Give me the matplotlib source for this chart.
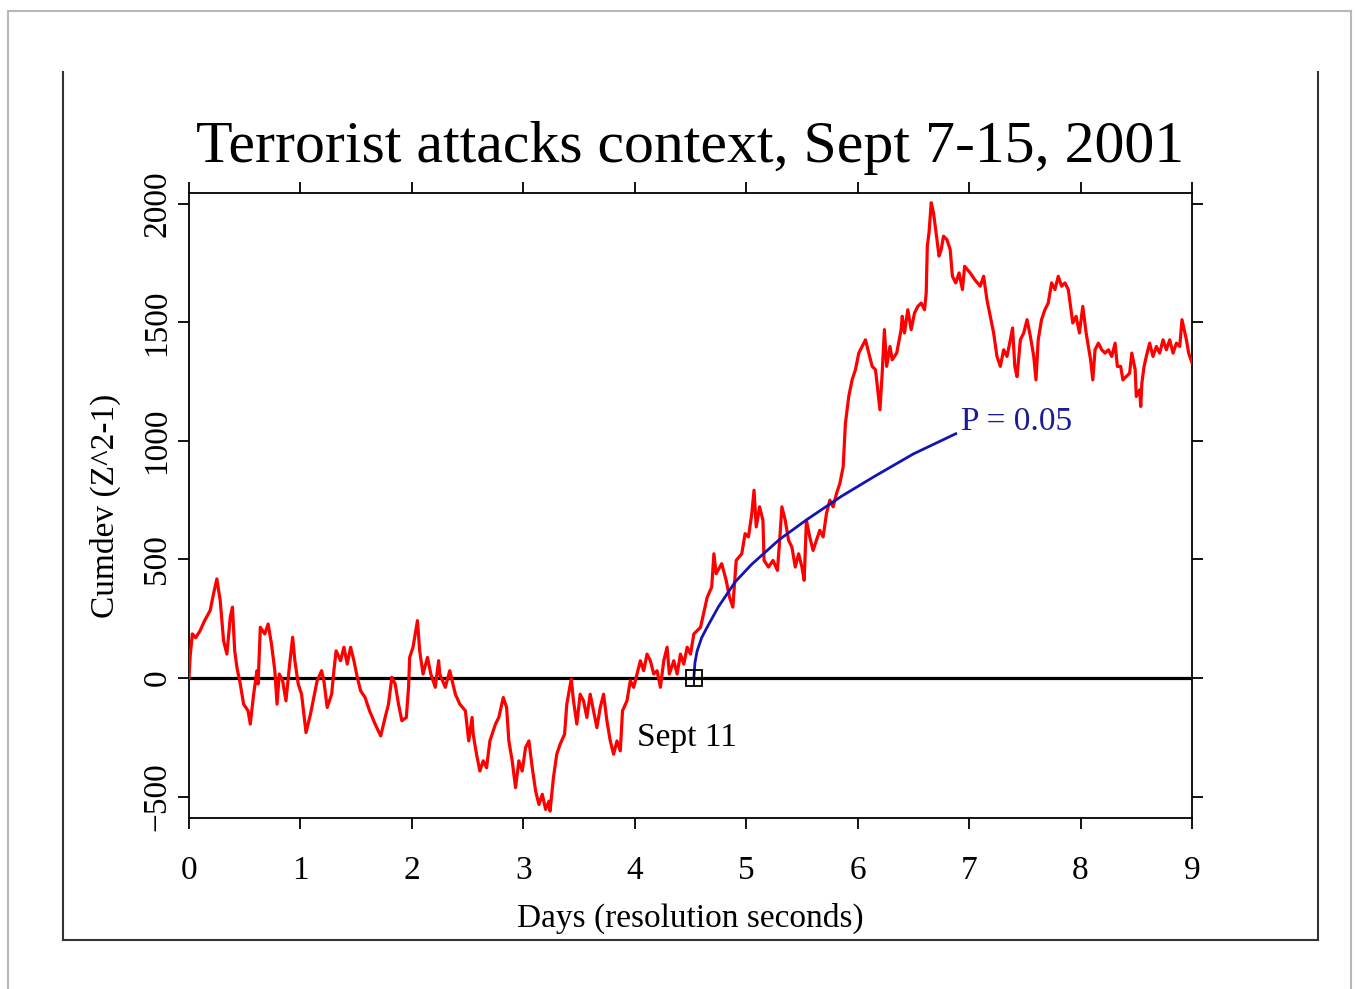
import matplotlib
matplotlib.use("Agg")
import matplotlib.pyplot as plt
from matplotlib.lines import Line2D

# ---------------- data ----------------
red_days = [
    0.00, 0.01, 0.03, 0.06, 0.10, 0.14, 0.19, 0.22, 0.25, 0.28, 0.31, 0.34, 0.37, 0.39,
    0.41, 0.43, 0.46, 0.49, 0.53, 0.55, 0.58, 0.61, 0.62, 0.64, 0.68, 0.71, 0.74, 0.77,
    0.79, 0.81, 0.84, 0.87, 0.90, 0.93, 0.95, 0.98, 1.01, 1.05, 1.09, 1.12, 1.15, 1.19,
    1.21, 1.24, 1.28, 1.30, 1.32, 1.36, 1.39, 1.42, 1.45, 1.48, 1.51, 1.54, 1.58, 1.62,
    1.67, 1.72, 1.76, 1.79, 1.82, 1.85, 1.88, 1.91, 1.95, 1.97, 1.98, 2.01, 2.05, 2.07,
    2.10, 2.14, 2.17, 2.21, 2.24,
    2.25, 2.30, 2.34, 2.39, 2.43, 2.48, 2.51, 2.54, 2.55, 2.58, 2.61, 2.64, 2.67, 2.70,
    2.75, 2.78, 2.82, 2.85, 2.87, 2.90, 2.93, 2.96, 2.99, 3.02, 3.05, 3.08, 3.11, 3.14,
    3.17, 3.20, 3.23, 3.24, 3.27, 3.30, 3.33, 3.37, 3.39, 3.43, 3.45, 3.48, 3.51, 3.54,
    3.57, 3.60, 3.63, 3.66, 3.69, 3.72, 3.75, 3.78, 3.81, 3.84, 3.87, 3.89, 3.93, 3.96,
    3.99, 4.02, 4.05, 4.08, 4.11, 4.14, 4.17, 4.20, 4.23, 4.26, 4.29, 4.31, 4.35, 4.38,
    4.41, 4.44, 4.47, 4.50,
    4.53, 4.59, 4.65, 4.69, 4.71, 4.73, 4.78, 4.82, 4.85, 4.88, 4.91, 4.96, 4.99, 5.02,
    5.05, 5.07, 5.09, 5.12, 5.15, 5.16, 5.20, 5.24, 5.28, 5.30, 5.32, 5.35, 5.38, 5.41,
    5.44, 5.47, 5.50, 5.52, 5.54, 5.57, 5.60, 5.63, 5.66, 5.69, 5.72, 5.75, 5.78, 5.81,
    5.84, 5.87, 5.89, 5.92, 5.95, 5.98, 6.01, 6.04, 6.07, 6.10, 6.13, 6.16, 6.20, 6.22,
    6.24, 6.26, 6.29, 6.31, 6.35, 6.39, 6.40, 6.42, 6.45, 6.48, 6.51, 6.54, 6.57, 6.60,
    6.615, 6.625, 6.64, 6.66, 6.68, 6.70, 6.73, 6.75, 6.77, 6.80, 6.83, 6.85, 6.88, 6.91,
    6.94, 6.96, 7.01, 7.05, 7.10, 7.13, 7.16, 7.19, 7.22, 7.25,
    7.28, 7.31, 7.34, 7.37, 7.39, 7.41, 7.43, 7.46, 7.49, 7.52, 7.55, 7.58, 7.60, 7.62,
    7.65, 7.68, 7.71, 7.74, 7.77, 7.80, 7.83, 7.86, 7.89, 7.91, 7.93, 7.96, 7.99, 8.02,
    8.05, 8.07, 8.09, 8.11, 8.13, 8.16, 8.19, 8.22, 8.25, 8.28, 8.31, 8.33, 8.36, 8.38,
    8.41, 8.44, 8.46, 8.49, 8.50, 8.53, 8.54, 8.55, 8.57, 8.59, 8.62, 8.65, 8.68, 8.71,
    8.74, 8.77, 8.80, 8.83, 8.86, 8.89, 8.91, 8.93, 8.95, 8.97, 9.00,
]
red_cumdev = [
    0, 90, 186, 170, 200, 242, 285, 355, 418, 327, 158, 101, 256, 299,
    115, 45, -25, -110, -138, -194, -68, 31, -25, 214, 186, 228, 144, 31,
    -110, 17, -11, -96, 45, 172, 73, -25, -68, -230, -152, -82, -11, 31,
    -11, -124, -68, 31, 115, 73, 130, 59, 130, 73, 3, -54, -82, -138,
    -194, -244, -166, -110, 3, -25, -110, -180, -166, -39, 87, 130, 242, 115,
    17, 87, 17, -39, 73,
    17, -39, 31, -68, -110, -138, -265, -166, -237, -321, -392, -349, -378, -265,
    -194, -166, -82, -124, -265, -349, -462, -349, -392, -293, -265, -378, -476, -533,
    -490, -554, -519, -561, -420, -321, -279, -237, -110, -4, -96, -194, -68, -96,
    -166, -68, -138, -209, -124, -68, -180, -265, -321, -265, -307, -138, -96, -11,
    -39, 17, 73, 31, 101, 73, 17, 31, -39, 73, 130, 17, 73, 17,
    101, 59, 130, 101,
    186, 214, 341, 383, 524, 440, 482, 412, 341, 299, 496, 524, 609, 595,
    693, 792, 637, 722, 665, 496, 468, 496, 454, 581, 722, 665, 581, 552,
    468, 524, 468, 412, 665, 595, 538, 581, 623, 595, 693, 750, 722, 778,
    820, 891, 1074, 1187, 1257, 1300, 1370, 1398, 1426, 1370, 1314, 1300, 1131, 1286,
    1469, 1314, 1398, 1342, 1370, 1469, 1525, 1455, 1553, 1469, 1539, 1567, 1581, 1553,
    1624, 1821, 1877, 2004, 1962, 1891, 1779, 1807, 1863, 1849, 1807, 1694, 1666, 1708,
    1638, 1736, 1708, 1680, 1652, 1694, 1595, 1525, 1455, 1356,
    1314, 1384, 1356, 1426, 1476, 1314, 1271, 1426, 1455, 1511, 1440, 1356, 1257, 1426,
    1511, 1553, 1581, 1666, 1638, 1694, 1652, 1666, 1638, 1567, 1497, 1525, 1455, 1567,
    1455, 1398, 1342, 1257, 1384, 1412, 1384, 1370, 1384, 1356, 1412, 1314, 1314, 1257,
    1271, 1285, 1370, 1300, 1187, 1215, 1145, 1243, 1314, 1356, 1412, 1356, 1398, 1370,
    1426, 1384, 1426, 1370, 1412, 1398, 1511, 1469, 1426, 1370, 1328,
]

p05_days = [4.53, 4.54, 4.56, 4.60, 4.65, 4.75, 4.90, 5.05, 5.30, 5.55, 5.85, 6.15, 6.50, 6.88]
p05_cumdev = [0, 65, 115, 170, 215, 300, 405, 480, 585, 670, 765, 850, 945, 1030]

event_day = 4.53
x_ticks = [0, 1, 2, 3, 4, 5, 6, 7, 8, 9]
y_ticks = [-500, 0, 500, 1000, 1500, 2000]

title = "Terrorist attacks context, Sept 7-15, 2001"
x_label = "Days (resolution seconds)"
y_label = "Cumdev (Z^2-1)"

# ---------------- figure ----------------
W, H = 1360, 989
fig = plt.figure(figsize=(W / 100, H / 100), dpi=100)
plt.rcParams['font.family'] = ['Liberation Serif', 'DejaVu Serif']


def fx(px):
    return px / W


def fy(py):
    return 1 - py / H


# outer gray border
for xs, ys in [((8, 8), (11, 989)), ((8, 1351), (11, 11)), ((1351, 1351), (11, 989))]:
    fig.add_artist(Line2D([fx(v) for v in xs], [fy(v) for v in ys],
                          color='#b8b8b8', lw=1.5))
# black frame (open at top)
for xs, ys in [((63, 63), (72, 940)), ((63, 1318), (940, 940)), ((1318, 1318), (72, 940))]:
    fig.add_artist(Line2D([fx(v) for v in xs], [fy(v) for v in ys],
                          color='#333333', lw=1.5))

ax = fig.add_axes([fx(189), fy(818), fx(1192) - fx(189), fy(193) - fy(818)])
ax.set_xlim(0, 9)
ax.set_ylim(-590, 2045)

ax.axhline(0, color='black', lw=2.3, zorder=2)
ax.plot(red_days, red_cumdev, color='#ff0000', lw=2.3, zorder=3)
ax.plot(p05_days, p05_cumdev, color='#1414b4', lw=2.0, zorder=4)
ax.plot([event_day], [0], marker='s', ms=11, mfc='none', mec='black', mew=1.3, zorder=5)
ax.plot([event_day], [0], marker='+', ms=11, mec='black', mew=1.3, zorder=5)

ax.text(4.02, -500 * (738 - 678) / 118.25, "Sept 11", fontsize=24, ha='left', va='center',
        color='black')
ax.text(6.93, 1080, "P = 0.05", fontsize=24, ha='left', va='center', color='#1a1a9a')

ax.set_xticks(x_ticks)
ax.set_yticks(y_ticks)
ax.tick_params(axis='both', which='both', direction='out', length=8, width=1.3,
               top=True, right=True, labeltop=False, labelright=False,
               labelsize=24)
ax.tick_params(axis='x', pad=19)
ax.tick_params(axis='y', pad=4)
for lab in ax.get_yticklabels():
    lab.set_rotation(90)
    lab.set_va('center')
for sp in ax.spines.values():
    sp.set_linewidth(1.3)

ax.set_xlabel(x_label, fontsize=24, labelpad=12)
ax.set_ylabel(y_label, fontsize=24, labelpad=15)
ax.set_title(title, fontsize=43, pad=22)

fig.savefig("out.png", dpi=100)
